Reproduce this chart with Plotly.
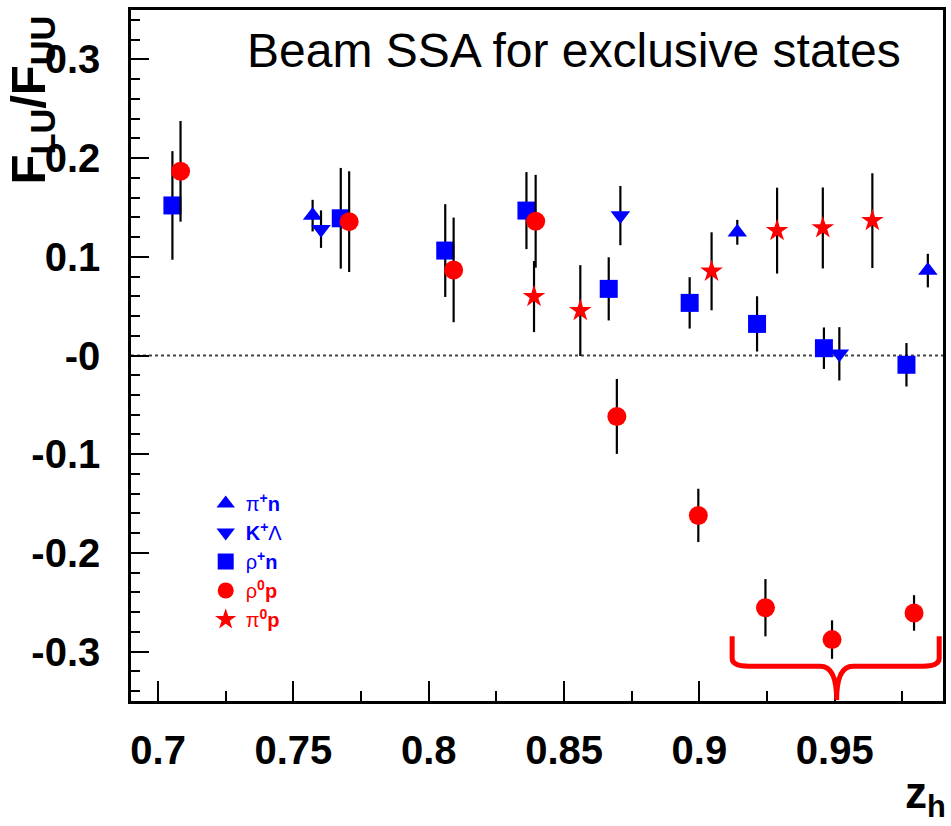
import plotly.graph_objects as go

# ---- data ----
pip_n_x = [0.7571, 0.9140, 0.9844]
pip_n_y = [0.1417, 0.1248, 0.0860]
pip_n_e = [0.016, 0.0126, 0.017]

kl_x = [0.7602, 0.8708, 0.9517]
kl_y = [0.1280, 0.1417, 0.0017]
kl_e = [0.019, 0.030, 0.027]

rhop_n_x = [0.7053, 0.7675, 0.8061, 0.8361, 0.8665, 0.8964, 0.9213, 0.9460, 0.9765]
rhop_n_y = [0.1520, 0.1390, 0.1063, 0.1468, 0.0675, 0.0533, 0.0320, 0.0074, -0.0094]
rhop_n_e = [0.055, 0.051, 0.047, 0.039, 0.032, 0.026, 0.028, 0.021, 0.022]

rho0_p_x = [0.7083, 0.7706, 0.8092, 0.8395, 0.8695, 0.8996, 0.9244, 0.9490, 0.9793]
rho0_p_y = [0.1866, 0.1356, 0.0867, 0.1360, -0.0617, -0.1620, -0.2555, -0.2878, -0.2608]
rho0_p_e = [0.051, 0.051, 0.053, 0.047, 0.038, 0.027, 0.029, 0.0195, 0.018]

pi0_p_x = [0.8389, 0.8560, 0.9045, 0.9287, 0.9456, 0.9639]
pi0_p_y = [0.0597, 0.0455, 0.0853, 0.1265, 0.1292, 0.1366]
pi0_p_e = [0.036, 0.046, 0.0395, 0.0435, 0.041, 0.048]

x_ticks = [0.7, 0.75, 0.8, 0.85, 0.9, 0.95]
x_ticktext = ["0.7", "0.75", "0.8", "0.85", "0.9", "0.95"]
y_ticks = [-0.3, -0.2, -0.1, 0.0, 0.1, 0.2, 0.3]
y_ticktext = ["-0.3", "-0.2", "-0.1", "-0", "0.1", "0.2", "0.3"]

# brace (data units)
brace_x0, brace_xm, brace_x1 = 0.9121, 0.9507, 0.9886
brace_top, brace_h, brace_bot = -0.2844, -0.3148, -0.349

BLUE = "#0000ff"
RED = "#ff0000"
NARROW = "Liberation Sans Narrow, Arial Narrow, Liberation Sans, Arial, sans-serif"
SANS = "Liberation Sans, Arial, sans-serif"

series = [
    (pip_n_x, pip_n_y, pip_n_e, "triangle-up", BLUE, 17,
     "<span style='color:#0000ff'>π<sup><b>+</b></sup><b>n</b></span>"),
    (kl_x, kl_y, kl_e, "triangle-down", BLUE, 17,
     "<span style='color:#0000ff'><b>K</b><sup><b>+</b></sup>Λ</span>"),
    (rhop_n_x, rhop_n_y, rhop_n_e, "square", BLUE, 18,
     "<span style='color:#0000ff'>ρ<sup><b>+</b></sup><b>n</b></span>"),
    (rho0_p_x, rho0_p_y, rho0_p_e, "circle", RED, 19,
     "<span style='color:#ff0000'>ρ<sup><b>0</b></sup><b>p</b></span>"),
    (pi0_p_x, pi0_p_y, pi0_p_e, "star", RED, 17,
     "<span style='color:#ff0000'>π<sup><b>0</b></sup><b>p</b></span>"),
]

fig = go.Figure()
for i, (xs, ys, es, sym, col, sz, name) in enumerate(series):
    fig.add_trace(go.Scatter(
        x=xs, y=ys, mode="markers", name=name, legendgroup=f"g{i}",
        marker=dict(symbol=sym, color=col, size=sz, line=dict(width=0)),
        error_y=dict(type="data", array=es, visible=True, color="black",
                     thickness=2.2, width=0),
    ))

# zero line
fig.add_shape(type="line", xref="paper", yref="y", x0=0, x1=1, y0=0, y1=0,
              line=dict(color="#444444", width=2, dash="dot"), layer="below")

# brace
d = 0.006
dy = 0.008
path = (f"M {brace_x0},{brace_top} L {brace_x0},{brace_h + dy} "
        f"Q {brace_x0},{brace_h} {brace_x0 + d},{brace_h} "
        f"L {brace_xm - d},{brace_h} Q {brace_xm},{brace_h} {brace_xm},{brace_bot} "
        f"Q {brace_xm},{brace_h} {brace_xm + d},{brace_h} "
        f"L {brace_x1 - d},{brace_h} Q {brace_x1},{brace_h} {brace_x1},{brace_h + dy} "
        f"L {brace_x1},{brace_top}")
fig.add_shape(type="path", xref="x", yref="y", path=path,
              line=dict(color=RED, width=5))

# title text
fig.add_annotation(text="Beam SSA for exclusive states", xref="paper", yref="paper",
                   x=0.141, y=0.942, xanchor="left", yanchor="middle", showarrow=False,
                   font=dict(family=SANS, size=48, color="black"))
# y-axis title
fig.add_annotation(text="<b>F<sub>LU</sub>/F<sub>UU</sub></b>", xref="paper", yref="paper",
                   x=0, xshift=-100, y=0.744, xanchor="center", yanchor="bottom",
                   textangle=-90, showarrow=False,
                   font=dict(family=SANS, size=49, color="black"))
# x-axis title
fig.add_annotation(text="<b>z<sub>h</sub></b>", xref="paper", yref="paper",
                   x=0.951, y=-0.138, xanchor="left", yanchor="middle", showarrow=False,
                   font=dict(family=SANS, size=44, color="black"))

fig.update_layout(
    width=951, height=826,
    margin=dict(l=131, r=5, t=10, b=125),
    paper_bgcolor="white", plot_bgcolor="white",
    showlegend=True,
    legend=dict(x=0.092, y=0.314, xanchor="left", yanchor="top",
                bgcolor="rgba(0,0,0,0)", tracegroupgap=0,
                font=dict(family=SANS, size=20), itemsizing="trace"),
    xaxis=dict(range=[0.69, 0.99], showgrid=False, zeroline=False,
               showline=True, linecolor="black", linewidth=2.5, mirror=True,
               tickmode="array", tickvals=x_ticks, ticktext=x_ticktext,
               ticks="inside", ticklen=20, tickwidth=1.5, tickcolor="black",
               minor=dict(dtick=0.025, tick0=0.7, ticks="inside", ticklen=10,
                          tickwidth=1.5, tickcolor="black"),
               tickfont=dict(family=NARROW, size=40, color="black", weight="bold"),
               ticklabelstandoff=12),
    yaxis=dict(range=[-0.35, 0.35], showgrid=False, zeroline=False,
               showline=True, linecolor="black", linewidth=2.5, mirror=True,
               tickmode="array", tickvals=y_ticks, ticktext=y_ticktext,
               ticks="inside", ticklen=18, tickwidth=1.5, tickcolor="black",
               minor=dict(dtick=0.02, tick0=0, ticks="inside", ticklen=9,
                          tickwidth=1.5, tickcolor="black"),
               tickfont=dict(family=NARROW, size=40, color="black", weight="bold"),
               ticklabelstandoff=20),
)

fig.write_html("out.html")
